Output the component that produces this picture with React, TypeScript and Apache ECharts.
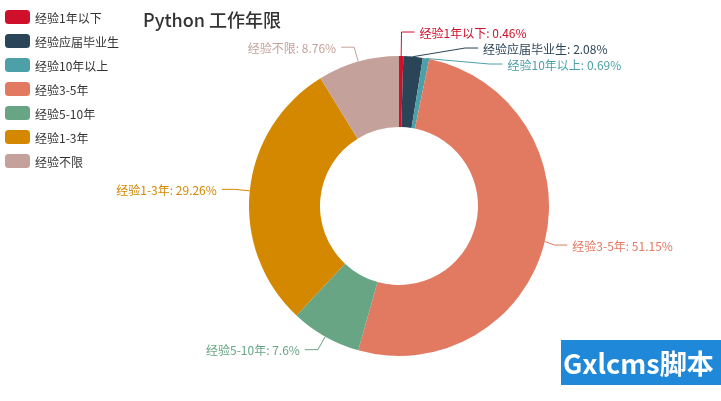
import React, { useEffect, useRef } from "react";
import * as echarts from "echarts";

const titleText = "Python 工作年限";
const categories = ["经验1年以下", "经验应届毕业生", "经验10年以上", "经验3-5年", "经验5-10年", "经验1-3年", "经验不限"];
const values = [0.46, 2.08, 0.69, 51.15, 7.6, 29.26, 8.76];
const colors = ["#d0102b", "#2b4558", "#4d9fa8", "#e27a62", "#67a585", "#d38800", "#c4a29b"];

export default function App() {
  const ref = useRef<HTMLDivElement>(null);
  useEffect(() => {
    if (!ref.current) return;
    const chart = echarts.init(ref.current, undefined, { renderer: "svg" });
    const font = "'Noto Sans CJK SC', 'Noto Sans', sans-serif";
    chart.setOption({
      animation: false,
      color: colors,
      textStyle: { fontFamily: font },
      title: {
        text: titleText,
        left: 138,
        top: 5,
        textStyle: { fontSize: 18, fontWeight: 500, color: "#333", fontFamily: font },
      },
      legend: {
        orient: "vertical",
        left: 0,
        top: 5,
        itemWidth: 25,
        itemHeight: 14,
        itemGap: 10,
        textStyle: { fontSize: 12, color: "#333" },
        data: categories,
      },
      series: [
        {
          type: "pie",
          center: [399, 206],
          radius: [79, 150],
          startAngle: 90,
          data: categories.map((c, i) => ({
            name: c,
            value: values[i],
            label: { color: colors[i] },
            ...(i === 0 ? { labelLine: { length: 24, length2: 13 } } : {}),
            ...(i === 1 ? { labelLine: { length: 19, length2: 13 } } : {}),
          })),
          label: {
            formatter: "{b}: {d}%",
            fontSize: 12,
            lineHeight: 14,
          },
          labelLine: { length: 15, length2: 13 },
        },
      ],
      graphic: [
        {
          type: "rect",
          shape: { x: 561, y: 340, width: 160, height: 45 },
          style: { fill: "#1f88d8" },
        },
        {
          type: "text",
          x: 563,
          y: 362,
          style: {
            text: "Gxlcms脚本",
            fill: "#fff",
            font: "bold 27px 'Noto Sans CJK SC', sans-serif",
            textVerticalAlign: "middle",
          },
        },
      ],
    });
    return () => chart.dispose();
  }, []);
  return <div ref={ref} style={{ position: "fixed", left: 0, top: 0, width: 721, height: 401 }} />;
}
